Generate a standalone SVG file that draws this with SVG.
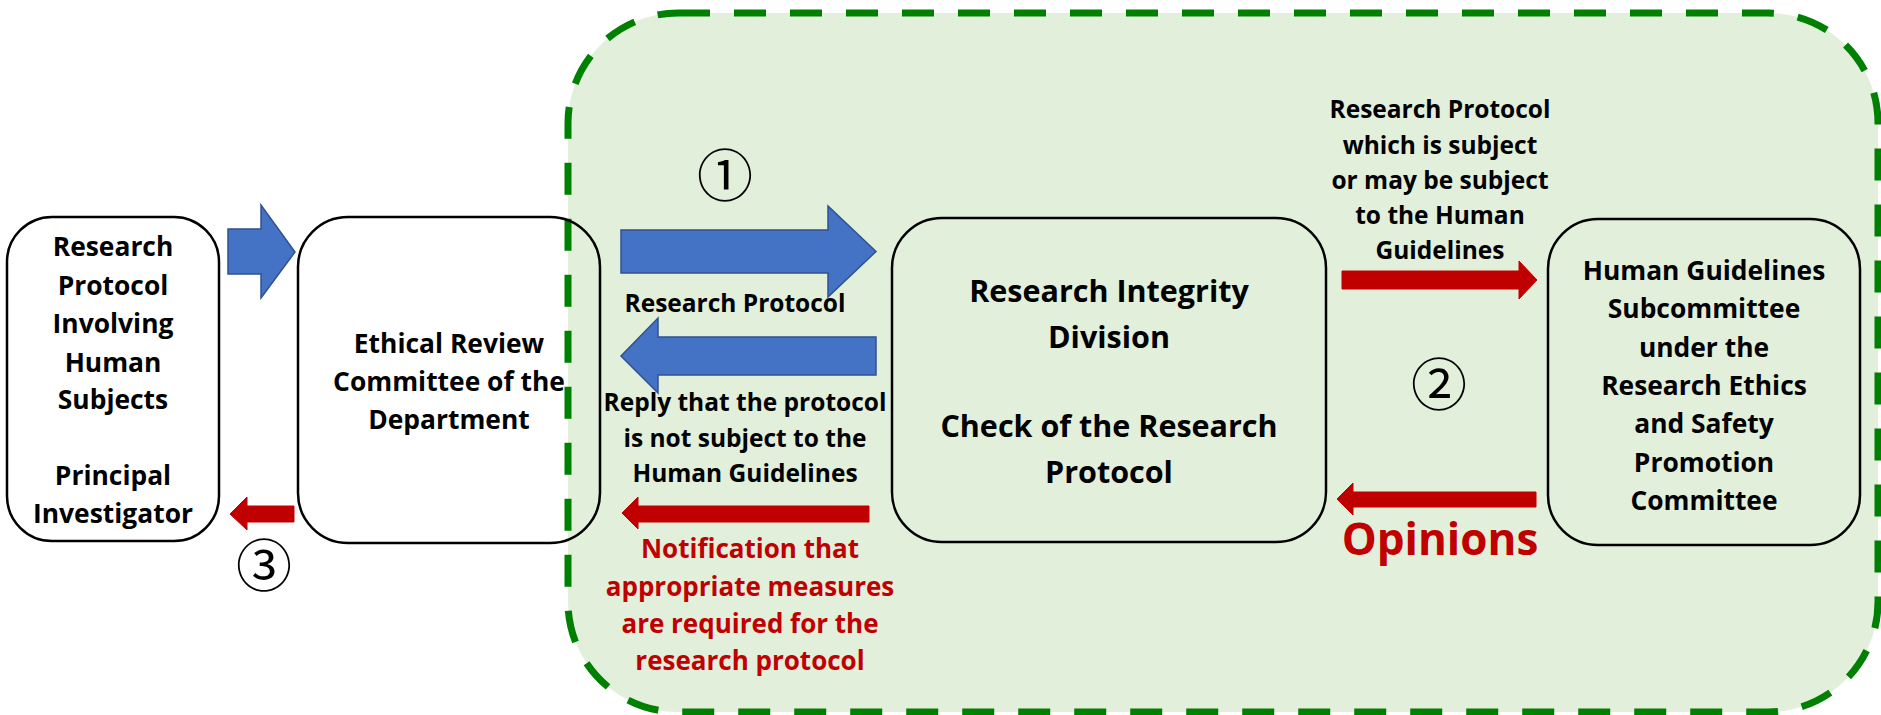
<svg xmlns="http://www.w3.org/2000/svg" width="1881" height="715" viewBox="0 0 1881 715">
<style>
.box{fill:none;stroke:#000;stroke-width:2.5}
.t{font-family:"Open Sans","Noto Sans","Liberation Sans",sans-serif;font-weight:bold;fill:#000;text-anchor:middle}
.n{font-size:26.4px}
.big{font-size:30.5px}
.l{font-size:24.5px}
.red{fill:#C00000}
.blue{fill:#4472C4;stroke:#2F528F;stroke-width:1.5}
.rarrow{fill:#C00000;stroke:#C00000;stroke-width:1}
.num{font-family:"Noto Sans CJK JP","DejaVu Sans",sans-serif;font-size:56px;fill:#000;text-anchor:middle}
</style>
<rect x="0" y="0" width="1881" height="715" fill="#fff"/>
<rect x="298" y="217" width="302" height="326" rx="50" fill="#fff"/>
<g id="region">
<rect x="568" y="13" width="1310" height="699" rx="110" fill="#E2EFDA" stroke="#008000" stroke-width="7" stroke-dasharray="32 24"/>
</g>
<g id="node-protocol">
<rect class="box" x="7" y="217" width="212" height="324" rx="45" style="fill:#fff"/>
<text class="t n" x="113" y="256">Research</text>
<text class="t n" x="113" y="295">Protocol</text>
<text class="t n" x="113" y="333">Involving</text>
<text class="t n" x="113" y="372">Human</text>
<text class="t n" x="113" y="409">Subjects</text>
<text class="t n" x="113" y="485">Principal</text>
<text class="t n" x="113" y="523">Investigator</text>
</g>
<g id="node-ethical">
<rect class="box" x="298" y="217" width="302" height="326" rx="50"/>
<text class="t n" x="449" y="353">Ethical Review</text>
<text class="t n" x="449" y="391">Committee of the</text>
<text class="t n" x="449" y="429">Department</text>
</g>
<g id="node-integrity">
<rect class="box" x="892" y="218" width="434" height="324" rx="50"/>
<text class="t big" x="1109" y="302">Research Integrity</text>
<text class="t big" x="1109" y="348">Division</text>
<text class="t big" x="1109" y="437">Check of the Research</text>
<text class="t big" x="1109" y="483">Protocol</text>
</g>
<g id="node-subcommittee">
<rect class="box" x="1548" y="219" width="312" height="326" rx="50"/>
<text class="t n" x="1704" y="280">Human Guidelines</text>
<text class="t n" x="1704" y="318">Subcommittee</text>
<text class="t n" x="1704" y="357">under the</text>
<text class="t n" x="1704" y="395">Research Ethics</text>
<text class="t n" x="1704" y="433">and Safety</text>
<text class="t n" x="1704" y="472">Promotion</text>
<text class="t n" x="1704" y="510">Committee</text>
</g>
<g id="connectors">
<path class="blue" d="M228,229 H261 V205 L295,252 L261,298 V274 H228 Z"/>
<path class="blue" d="M621,230 H828 V206 L876,251.5 L828,297 V273 H621 Z"/>
<path class="blue" d="M876,337 H658 V318 L621,356 L658,393 V375 H876 Z"/>
<path class="rarrow" d="M294,506 H247 V497 L230,514 L247,530 V522 H294 Z"/>
<path class="rarrow" d="M869,506 H638 V497 L622,513 L638,529 V522 H869 Z"/>
<path class="rarrow" d="M1342,271 H1519 V261 L1537,280 L1519,299 V289 H1342 Z"/>
<path class="rarrow" d="M1536,492 H1353 V483 L1337,499 L1353,515 V507 H1536 Z"/>
<text class="num" x="725" y="196">①</text>
<text class="num" x="1439" y="405">②</text>
<text class="num" x="264" y="586">③</text>
<text class="t l" x="735" y="312">Research Protocol</text>
<text class="t l" x="745" y="411">Reply that the protocol</text>
<text class="t l" x="745" y="447">is not subject to the</text>
<text class="t l" x="745" y="482">Human Guidelines</text>
<text class="t red" style="font-size:26px" x="750" y="558">Notification that</text>
<text class="t red" style="font-size:26px" x="750" y="596">appropriate measures</text>
<text class="t red" style="font-size:26px" x="750" y="633">are required for the</text>
<text class="t red" style="font-size:26px" x="750" y="670">research protocol</text>
<text class="t l" x="1440" y="118">Research Protocol</text>
<text class="t l" x="1440" y="154">which is subject</text>
<text class="t l" x="1440" y="189">or may be subject</text>
<text class="t l" x="1440" y="224">to the Human</text>
<text class="t l" x="1440" y="259">Guidelines</text>
<text class="t red" style="font-size:44px" x="1440" y="555">Opinions</text>
</g>
</svg>
